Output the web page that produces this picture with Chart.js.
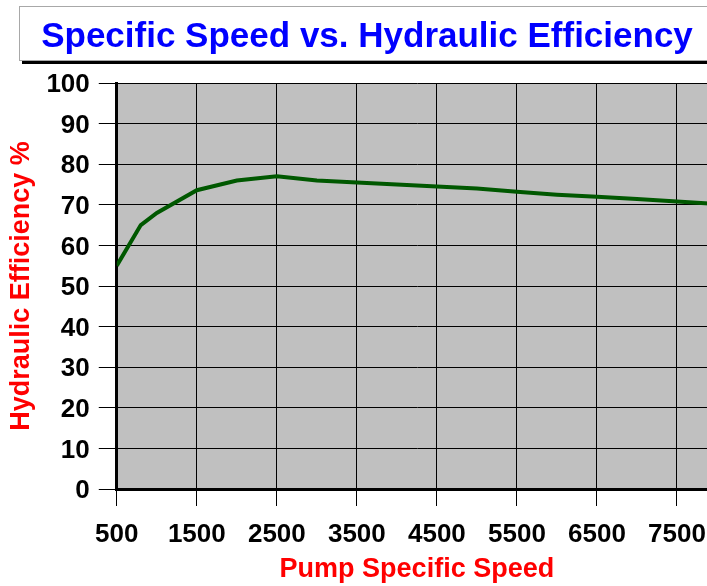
<!DOCTYPE html>
<html>
<head>
<meta charset="utf-8">
<script src="https://cdn.jsdelivr.net/npm/chart.js@4.4.0/dist/chart.umd.min.js"></script>
<style>
  html, body { margin: 0; padding: 0; background: #fff; overflow: hidden; width: 707px; height: 586px; }
  #wrap { position: absolute; left: 0; top: 0; width: 720px; height: 586px; }
  #titulo {
    position: absolute; left: 19px; top: 6px; width: 694px; height: 53px;
    border: 1px solid #a8a8a8; background: #fff; box-shadow: 3px 3px 0 0 #000;
    font: bold 35px "Liberation Sans", Arial, sans-serif; color: #0000ff;
    text-align: center; line-height: 56px; z-index: 2; white-space: nowrap; overflow: hidden;
  }
</style>
</head>
<body>
<div id="wrap">
  <div id="titulo">Specific Speed vs. Hydraulic Efficiency</div>
  <canvas id="grafico" width="720" height="586"></canvas>
</div>
<script>
// --- datos ---
const velocidades = [500, 800, 1000, 1500, 2000, 2500, 3000, 3500, 4000, 4500, 5000, 5500, 6000, 6500, 7000, 7500, 8000];
const eficiencia = [55, 65, 68, 73.6, 76, 77, 76, 75.5, 75, 74.5, 74, 73.2, 72.5, 72, 71.4, 70.8, 70.2];
const ticksX = [500, 1500, 2500, 3500, 4500, 5500, 6500, 7500];

const FUENTE = '"Liberation Sans", Arial, sans-serif';

// fondo gris del area de trazado
const fondoGris = {
  id: 'fondoGris',
  beforeDraw(chart) {
    const { ctx, chartArea } = chart;
    ctx.save();
    ctx.fillStyle = '#c0c0c0';
    ctx.fillRect(chartArea.left, chartArea.top, chartArea.right - chartArea.left, chartArea.bottom - chartArea.top);
    ctx.restore();
  }
};

const ctx = document.getElementById('grafico').getContext('2d');
new Chart(ctx, {
  type: 'line',
  data: {
    datasets: [{
      data: velocidades.map((v, i) => ({ x: v, y: eficiencia[i] })),
      borderColor: '#005800',
      borderWidth: 4,
      pointRadius: 0,
      tension: 0,
      fill: false
    }]
  },
  options: {
    responsive: false,
    animation: false,
    layout: { padding: { top: 83, right: 3, left: 0, bottom: 0 } },
    plugins: { legend: { display: false }, tooltip: { enabled: false } },
    scales: {
      x: {
        type: 'linear',
        min: 500,
        max: 8000,
        afterBuildTicks: (scale) => { scale.ticks = ticksX.map(v => ({ value: v })); },
        afterFit: (scale) => { scale.height = 97; },
        grid: { color: '#000', lineWidth: 1, tickLength: 17, tickColor: '#000' },
        border: { display: true, color: '#000', width: 3 },
        ticks: {
          color: '#000', font: { family: FUENTE, size: 26, weight: 'bold' }, padding: 13,
          maxRotation: 0, autoSkip: false, callback: (v) => String(v)
        },
        title: {
          display: true, text: 'Pump Specific Speed', color: '#ff0000',
          font: { family: FUENTE, size: 27, weight: 'bold' }, padding: { top: 2, bottom: 0 }
        }
      },
      y: {
        min: 0,
        max: 100,
        ticks: {
          stepSize: 10, color: '#000', font: { family: FUENTE, size: 26, weight: 'bold' },
          padding: 9, labelOffset: 2, callback: (v) => String(v)
        },
        grid: { color: '#000', lineWidth: 1, tickLength: 18, tickColor: '#000' },
        border: { display: true, color: '#000', width: 3 },
        title: {
          display: true, text: 'Hydraulic Efficiency %', color: '#ff0000',
          font: { family: FUENTE, size: 27, weight: 'bold' }, padding: { top: 5, bottom: 0 }
        }
      }
    }
  },
  plugins: [fondoGris]
});
</script>
</body>
</html>
